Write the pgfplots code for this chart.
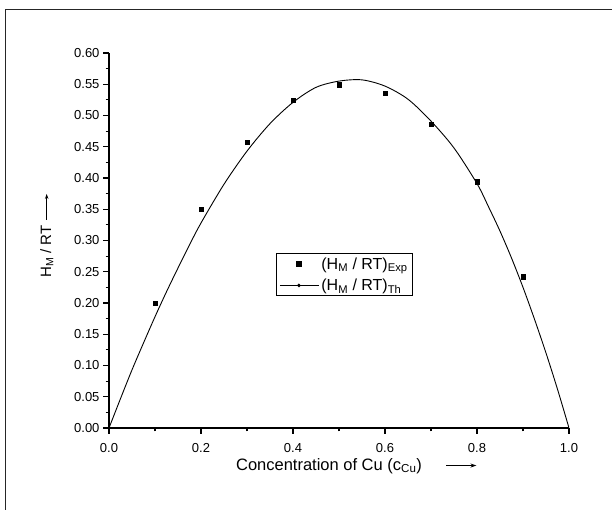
\documentclass[border=0pt]{standalone}
\usepackage{pgfplots}
\usepackage{pgfplotstable}
\pgfplotsset{compat=1.18}
\usetikzlibrary{arrows.meta}
\usepackage{fontspec}
\setmainfont{Liberation Sans}

% measured enthalpy of mixing
\pgfplotstableread{
x    y
0.1  0.200
0.2  0.350
0.3  0.457
0.4  0.524
0.5  0.549
0.6  0.536
0.7  0.486
0.8  0.394
0.9  0.242
}\expdata

% calculated curve
\pgfplotstableread{
x      y
0.000  0.000
0.025  0.047
0.050  0.093
0.075  0.136
0.100  0.178
0.125  0.218
0.150  0.256
0.175  0.293
0.200  0.328
0.250  0.390
0.300  0.443
0.350  0.487
0.400  0.521
0.450  0.545
0.500  0.555
0.550  0.557
0.600  0.547
0.650  0.526
0.700  0.491
0.750  0.448
0.800  0.391
0.825  0.354
0.850  0.315
0.875  0.272
0.900  0.225
0.925  0.174
0.950  0.120
0.975  0.062
1.000  0.000
}\thdata

\begin{document}
\begin{tikzpicture}[x=1pt,y=1pt]
\useasboundingbox (-109,-82) rectangle (503,428);
\draw[line width=1pt, black!85] (-103,-90) -- (-103,418) -- (510,418);
\begin{axis}[
  at={(0,0)}, anchor=south west,
  scale only axis, width=460pt, height=375pt,
  xmin=0, xmax=1, ymin=0, ymax=0.6,
  axis lines=left, axis line style={-, line width=1.2pt},
  tick align=outside,
  xtick={0,0.2,0.4,0.6,0.8,1.0}, minor x tick num=1,
  ytick={0,0.05,0.1,0.15,0.2,0.25,0.3,0.35,0.4,0.45,0.5,0.55,0.6},
  minor y tick num=1,
  major tick length=6pt, minor tick length=3.5pt,
  every tick/.style={line width=1.1pt, black},
  /pgf/number format/assume math mode=true,
  xticklabel={\pgfmathprintnumber[fixed,fixed zerofill,precision=1]{\tick}},
  yticklabel={\pgfmathprintnumber[fixed,fixed zerofill,precision=2]{\tick}},
  ticklabel style={font=\fontsize{13}{15}\selectfont},
  xticklabel style={yshift=-6pt},
  xlabel={Concentration of Cu (c\textsubscript{Cu})\hspace{24pt}\raisebox{0.3ex}{\tikz\draw[line width=0.9pt,-{Stealth[length=6pt,width=4pt]}] (0pt,0pt)--(30pt,0pt);}},
  ylabel={H\textsubscript{M} / RT\hspace{5pt}\raisebox{0.35ex}{\tikz\draw[line width=0.9pt,-{Stealth[length=5pt,width=3.5pt]}] (0pt,0pt)--(26pt,0pt);}},
  xlabel style={at={(axis description cs:0.538,-0.101)}, anchor=center,
    font=\fontsize{16.5}{19}\selectfont},
  ylabel style={at={(axis description cs:-0.135,0.513)}, anchor=center,
    font=\fontsize{15}{17}\selectfont},
  legend style={at={(0.363,0.466)}, anchor=north west, draw=black, line width=1pt,
    font=\fontsize{16}{19}\selectfont, inner xsep=3pt, inner ysep=2pt,
    row sep=4pt},
  legend cell align=left,
]
\addplot[only marks, mark=square*, mark size=2.2pt, black,
  legend image code/.code={\draw[only marks, mark=square*, mark size=2.7pt, black] plot coordinates {(19pt,0pt)};}]
  table[x=x,y=y]{\expdata};
\addlegendentry{(H\textsubscript{M} / RT)\textsubscript{Exp}}
\addplot[black, line width=0.9pt, smooth, no marks,
  legend image code/.code={\draw[black, line width=0.9pt] (0pt,0pt)--(39pt,0pt); \fill[black] (19pt,0pt) circle (1.3pt);}]
  table[x=x,y=y]{\thdata};
\addlegendentry{(H\textsubscript{M} / RT)\textsubscript{Th}}
\end{axis}
\end{tikzpicture}
\end{document}
